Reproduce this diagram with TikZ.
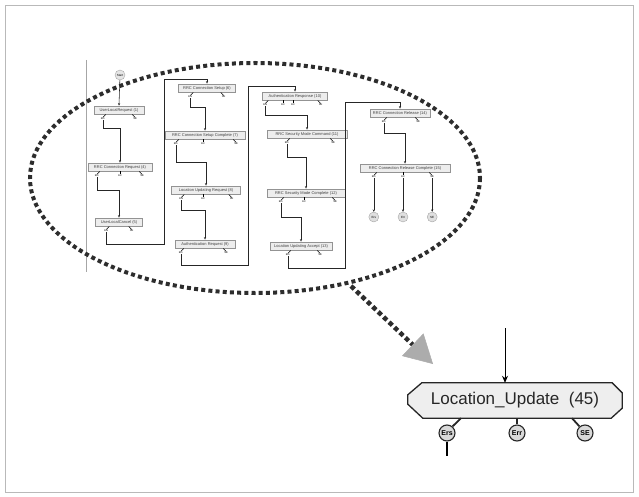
\documentclass[tikz,border=0pt]{standalone}
\usepackage{fontspec}
\setmainfont{Liberation Sans}
\usetikzlibrary{arrows.meta,calc}
\tikzset{
  sbox/.style={draw=gray!85, fill=gray!14, font=\fontsize{4}{4.5}\selectfont, inner sep=0.6pt, minimum height=8.5pt, text=black!75},
  plab/.style={font=\fontsize{2.6}{3}\selectfont, inner sep=0.3pt, anchor=north, text=black},
  stub/.style={line width=0.5pt},
  conn/.style={line width=0.55pt, draw=black!85},
  carr/.style={conn, -{Stealth[length=2.4pt,width=2.2pt]}},
  endc/.style={circle, draw=gray!70, fill=gray!25, minimum size=10pt, inner sep=0pt, font=\fontsize{3}{3}\selectfont},
  ell/.style={draw=gray!35!black, line width=4pt, dash pattern=on 4pt off 3.2pt},
  bigarr/.style={draw=gray!35!black, line width=4.5pt, dash pattern=on 4.5pt off 3pt,
     -{Triangle[length=28pt,width=31pt,line width=0.5pt,fill=gray!65,color=gray!65]}},
  octshape/.style={draw=gray!30!black, fill=gray!13, line width=1.3pt},
  bport/.style={circle, draw=black!85, fill=gray!30, line width=1.1pt, minimum size=16pt, inner sep=0pt, font=\fontsize{7}{7}\bfseries},
  bstub/.style={line width=1.8pt, draw=black!85},
  frame/.style={draw=gray!55, line width=0.8pt}
}
\newcommand\lport[2]{\node[plab] (#1e) at ($(#1.south west)+(#2,3)$) {Ers};
  \draw[stub] (#1e.north) -- ($(#1.south west)+(#2,0)+(3,0)$);}
\newcommand\rport[2]{\node[plab] (#1s) at ($(#1.south east)+(-#2,3)$) {SE};
  \draw[stub] (#1s.north) -- ($(#1.south east)+(-#2,0)+(-3,0)$);}
\newcommand\mport[2]{\node[plab] (#1r) at ($(#1.south)+(#2,3)$) {Err};
  \draw[stub] (#1r.north) -- ($(#1.south)+(#2,0)$);}
\begin{document}
\begin{tikzpicture}[x=1pt,y=-1pt]
\useasboundingbox (0,0) rectangle (639,497);
\draw[frame] (5,5) rectangle (633,492);

% left edge of the panel
\draw[gray!70, line width=0.8pt] (86,60) -- (86,272);

% column 1
\node[circle, draw=gray!70, fill=gray!20, minimum size=10pt, inner sep=0pt, font=\fontsize{3}{3}\selectfont] (start) at (120,75) {Start};
\node[sbox, minimum width=50pt] (b1) at (119,110) {UserLocalRequest (1)};
\node[sbox, minimum width=64pt] (b2) at (120,167) {RRC Connection Request (4)};
\node[sbox, minimum width=47pt] (b3) at (119,222) {UserLocalCancel (5)};
% column 2
\node[sbox, minimum width=57pt] (b6) at (207,88) {RRC Connection Setup (6)};
\node[sbox, minimum width=80pt] (b7) at (205,135) {RRC Connection Setup Complete (7)};
\node[sbox, minimum width=69pt] (b8) at (206,190) {Location Updating Request (8)};
\node[sbox, minimum width=60pt] (b9) at (205,244) {Authentication Request (9)};
% column 3
\node[sbox, minimum width=65pt] (b10) at (295,96) {Authentication Response (10)};
\node[sbox, minimum width=80pt] (b11) at (307,134) {RRC Security Mode Command (11)};
\node[sbox, minimum width=78pt] (b12) at (306,193) {RRC Security Mode Complete (12)};
\node[sbox, minimum width=62pt] (b13) at (301,246) {Location Updating Accept (13)};
% column 4
\node[sbox, minimum width=60pt] (b14) at (400,113) {RRC Connection Release (14)};
\node[sbox, minimum width=90pt] (b15) at (405,168) {RRC Connection Release Complete (15)};

% ports
\lport{b1}{9}\rport{b1}{9}
\lport{b2}{9}\mport{b2}{0}\rport{b2}{10}
\lport{b3}{11}\rport{b3}{11}
\lport{b6}{12}\rport{b6}{12}
\lport{b7}{11}\mport{b7}{-2}\rport{b7}{9}
\lport{b8}{10}\mport{b8}{-3}\rport{b8}{9}
\lport{b9}{6}\rport{b9}{9}
\lport{b10}{3}\mport{b10}{-12}\mport{b10}{-2}\rport{b10}{7}
\lport{b11}{20}\rport{b11}{14}
\lport{b12}{14}\mport{b12}{-2}\rport{b12}{10}
\lport{b13}{18}\rport{b13}{12}
\lport{b14}{14}\rport{b14}{12}
\lport{b15}{14}\mport{b15}{-2}\rport{b15}{18}

% connectors
\coordinate (c1) at (164,244);
\coordinate (c2) at (164,79);
\coordinate (c3) at (248,265);
\coordinate (c4) at (248,86);
\coordinate (c5) at (345,268);
\coordinate (c6) at (345,102);
\draw[carr] (start) -- (b1.north);
\draw[carr] (b1e.south) -- ++(0,8) -| (b2.north);
\draw[carr] (b2e.south) -- ++(0,13) -| (b3.north);
\draw[carr] (b3e.south) |- (c1) -- (c2) -| (b6.north);
\draw[carr] (b6e.south) -- ++(0,9) -| (b7.north);
\draw[carr] (b7e.south) -- ++(0,17) -| (b8.north);
\draw[carr] (b8e.south) -- ++(0,10) -| (b9.north);
\draw[carr] (b9e.south) |- (c3) -- (c4) -| (b10.north);
\draw[carr] (b10e.south) -- ++(0,9) -| (b11.north);
\draw[carr] (b11e.south) -- ++(0,13) -| (b12.north);
\draw[carr] (b12e.south) -- ++(0,14) -| (b13.north);
\draw[carr] (b13e.south) |- (c5) -- (c6) -| (b14.north);
\draw[carr] (b14e.south) -- ++(0,10) -| (b15.north);

% end points
\coordinate (lvl) at (0,217);
\node[endc] (x1) at (b15e.south |- lvl) {Ers};
\node[endc] (x2) at (b15r.south |- lvl) {Err};
\node[endc] (x3) at (b15s.south |- lvl) {SE};
\draw[carr] (b15e.south) -- (x1.north);
\draw[carr] (b15r.south) -- (x2.north);
\draw[carr] (b15s.south) -- (x3.north);

% dotted ellipse and zoom arrow
\draw[ell] (255,178) ellipse [x radius=225, y radius=115];
\coordinate (ar1) at (351,286);
\coordinate (ar2) at (433,364);
\draw[bigarr] (ar1) -- (ar2);

% big node
\node[minimum width=214pt, minimum height=35pt, inner sep=0pt] (oct) at (515,400.5) {};
\draw[octshape] ($(oct.north west)+(14,0)$) -- ($(oct.north east)+(-10,0)$) -- ($(oct.north east)+(0,10)$)
  -- ($(oct.south east)+(0,-10)$) -- ($(oct.south east)+(-11,0)$) -- ($(oct.south west)+(15,0)$)
  -- ($(oct.south west)+(0,-14)$) -- ($(oct.north west)+(0,12)$) -- cycle;
\node[font=\fontsize{17}{17}\selectfont, text=black!85] (octtext) at (oct.center) {Location\_Update\ \ (45)};

\coordinate (intop) at (505,328);
\draw[line width=1pt, -{Stealth[length=7pt,width=6pt]}] (intop) -- (intop |- oct.north);

\node[bport] (pe) at (447,433) {Ers};
\node[bport] (pr) at (517,433) {Err};
\node[bport] (ps) at (585,433) {SE};
\draw[bstub] (pe.50) -- ($(oct.south)+(-54,0)$);
\draw[bstub] (pr.north) -- (pr.north |- oct.south);
\draw[bstub] (ps.130) -- ($(oct.south)+(57,0)$);
\coordinate (tail) at (447,456);
\draw[line width=1.5pt] (pe.south) -- (tail);
\end{tikzpicture}
\end{document}
